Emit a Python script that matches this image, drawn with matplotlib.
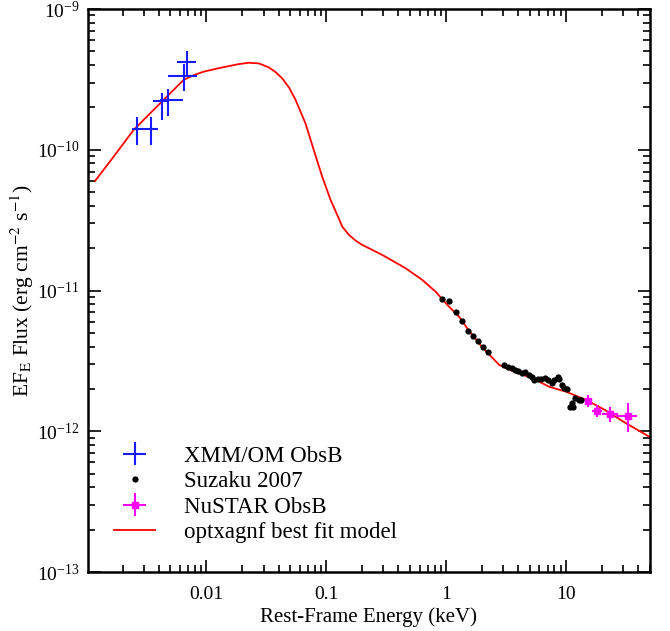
import matplotlib
matplotlib.use("Agg")
import matplotlib.pyplot as plt
import numpy as np
from matplotlib.ticker import FixedLocator, FixedFormatter, LogLocator, NullFormatter

plt.rcParams["font.family"] = ["Liberation Serif", "DejaVu Serif"]
plt.rcParams["mathtext.fontset"] = "stix"

# XMM/OM ObsB (keV, erg cm^-2 s^-1)
xmm_e = [0.00263, 0.00345, 0.00425, 0.00478, 0.00646, 0.00689]
xmm_e_lo = [0.00239, 0.00302, 0.00356, 0.00413, 0.00478, 0.00568]
xmm_e_hi = [0.00302, 0.00399, 0.00484, 0.00637, 0.00835, 0.00825]
xmm_f = [1.40e-10, 1.40e-10, 2.22e-10, 2.25e-10, 3.34e-10, 4.18e-10]
xmm_f_lo = [1.08e-10, 1.08e-10, 1.64e-10, 1.74e-10, 2.63e-10, 3.34e-10]
xmm_f_hi = [1.70e-10, 1.70e-10, 2.54e-10, 2.69e-10, 4.07e-10, 5.06e-10]

# Suzaku 2007
suz_e = [0.918, 1.057, 1.21, 1.358, 1.524, 1.687, 1.858, 2.046, 2.25,
         3.06, 3.25, 3.53, 3.76, 4.01, 4.33, 4.56, 4.93, 5.19, 5.42, 5.78,
         6.17, 6.67, 7.10, 7.63, 7.97, 8.49, 8.77, 9.25, 9.53, 10.2,
         10.8, 11.2, 11.5, 11.9, 12.7, 13.3]
suz_f = [8.71e-12, 8.47e-12, 7.03e-12, 6.04e-12, 5.15e-12, 4.73e-12, 4.40e-12, 3.97e-12, 3.64e-12,
         2.94e-12, 2.87e-12, 2.83e-12, 2.72e-12, 2.68e-12, 2.61e-12, 2.65e-12, 2.50e-12, 2.44e-12, 2.31e-12, 2.34e-12,
         2.34e-12, 2.38e-12, 2.31e-12, 2.19e-12, 2.31e-12, 2.42e-12, 2.34e-12, 2.13e-12, 2.04e-12, 2.01e-12,
         1.49e-12, 1.58e-12, 1.49e-12, 1.71e-12, 1.67e-12, 1.67e-12]

# NuSTAR ObsB
nu_e = [15.3, 18.0, 23.3, 32.9]
nu_e_lo = [14.5, 16.4, 19.9, 26.2]
nu_e_hi = [16.3, 19.8, 26.9, 38.8]
nu_f = [1.64e-12, 1.40e-12, 1.33e-12, 1.28e-12]
nu_f_lo = [1.48e-12, 1.26e-12, 1.16e-12, 0.98e-12]
nu_f_hi = [1.81e-12, 1.54e-12, 1.48e-12, 1.58e-12]

# optxagnf best fit model
mod_e = [0.00118, 0.00168, 0.00247, 0.0033, 0.0044, 0.00645, 0.0078, 0.0095, 0.0127, 0.0186,
         0.0225, 0.0274, 0.0331, 0.0375, 0.0429, 0.049, 0.0555, 0.0671, 0.0787, 0.0925, 0.1087,
         0.127, 0.136, 0.155, 0.176, 0.1995, 0.293, 0.459, 0.632, 0.818, 1.057, 1.28, 1.52, 2.0,
         2.77, 3.8, 5.25, 7.24, 10.0, 14.7, 21.0, 31.6, 50.0]
mod_f = [6.0e-11, 8.9e-11, 1.38e-10, 1.77e-10, 2.26e-10, 3.13e-10, 3.38e-10, 3.59e-10, 3.80e-10, 4.06e-10,
         4.15e-10, 4.11e-10, 3.85e-10, 3.58e-10, 3.22e-10, 2.76e-10, 2.26e-10, 1.54e-10, 9.96e-11, 6.44e-11, 4.40e-11,
         3.26e-11, 2.84e-11, 2.48e-11, 2.26e-11, 2.11e-11, 1.79e-11, 1.44e-11, 1.19e-11, 9.8e-12, 7.67e-12, 6.52e-12,
         5.3e-12, 3.95e-12,
         2.96e-12, 2.62e-12, 2.38e-12, 2.07e-12, 1.91e-12, 1.67e-12, 1.42e-12, 1.14e-12, 9.1e-13]

xtick_vals = [0.01, 0.1, 1, 10]
xtick_labels = ["0.01", "0.1", "1", "10"]


def asym(center, lo, hi):
    c = np.array(center)
    return [c - np.array(lo), np.array(hi) - c]


fig = plt.figure(figsize=(6.70, 6.31), dpi=100)
ax = fig.add_axes([0.1313, 0.0935, 0.8387, 0.8922])

ax.plot(mod_e, mod_f, color="red", lw=1.3, label="optxagnf best fit model", zorder=2)
ax.errorbar(xmm_e, xmm_f, xerr=asym(xmm_e, xmm_e_lo, xmm_e_hi), yerr=asym(xmm_f, xmm_f_lo, xmm_f_hi),
            fmt="none", ecolor="#1a1aff", elinewidth=1.5, capsize=0, label="XMM/OM ObsB", zorder=3)
ax.plot(suz_e, suz_f, "o", color="black", ms=4.5, mew=0, label="Suzaku 2007", zorder=3)
ax.errorbar(nu_e, nu_f, xerr=asym(nu_e, nu_e_lo, nu_e_hi), yerr=asym(nu_f, nu_f_lo, nu_f_hi),
            fmt="s", color="magenta", ms=4, ecolor="magenta", elinewidth=1.5, capsize=0,
            label="NuSTAR ObsB", zorder=3)

ax.set_xscale("log")
ax.set_yscale("log")
ax.set_xlim(1.03e-3, 50)
ax.set_ylim(1e-13, 1e-9)

ax.xaxis.set_major_locator(FixedLocator(xtick_vals))
ax.xaxis.set_major_formatter(FixedFormatter(xtick_labels))
ax.xaxis.set_minor_locator(LogLocator(base=10, subs=np.arange(2, 10), numticks=20))
ax.xaxis.set_minor_formatter(NullFormatter())
ax.yaxis.set_minor_locator(LogLocator(base=10, subs=np.arange(2, 10), numticks=20))
ax.yaxis.set_minor_formatter(NullFormatter())

ax.tick_params(which="both", direction="in", top=True, right=True, width=1.2, labelsize=14)
ax.tick_params(which="major", length=9)
ax.tick_params(which="minor", length=5)
ax.tick_params(axis="x", which="major", pad=10)
ax.tick_params(axis="y", which="major", pad=6)
for s in ax.spines.values():
    s.set_linewidth(1.8)

ax.set_xlabel("Rest-Frame Energy (keV)", fontsize=15, labelpad=3)
ax.set_ylabel(r"EF$_\mathrm{E}$ Flux (erg cm$^{-2}$ s$^{-1}$)", fontsize=15.5, labelpad=1)

handles, labels = ax.get_legend_handles_labels()
order = [labels.index(n) for n in ["XMM/OM ObsB", "Suzaku 2007", "NuSTAR ObsB", "optxagnf best fit model"]]
ax.legend([handles[i] for i in order], [labels[i] for i in order], loc="lower left",
          bbox_to_anchor=(0.01, 0.015), frameon=False, fontsize=16.5, handlelength=1.8,
          handletextpad=1.25, labelspacing=0.19)

fig.savefig("out.png", dpi=100)
